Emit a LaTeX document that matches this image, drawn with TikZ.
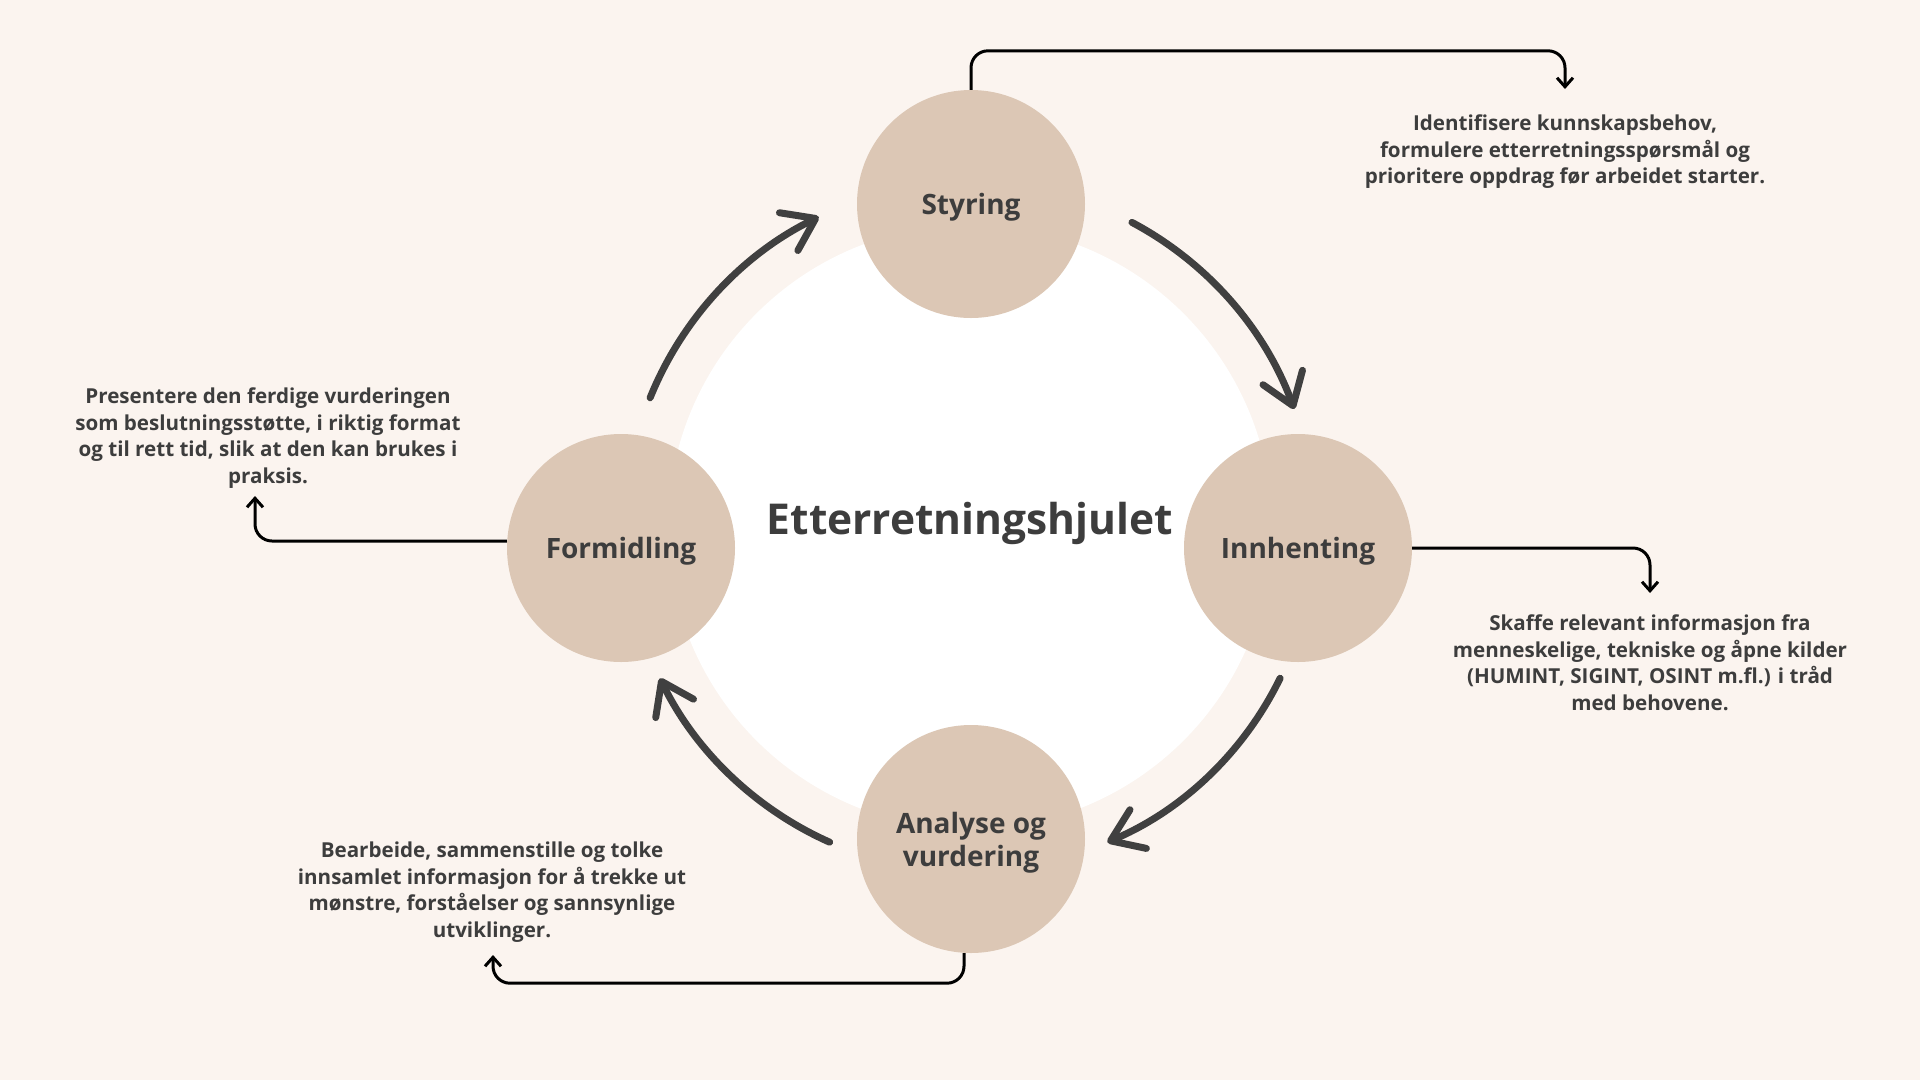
\documentclass[tikz,border=0pt]{standalone}
\usepackage{fontspec}
\setmainfont{Open Sans}
\usepackage{xcolor}
\usetikzlibrary{positioning,arrows.meta}

\definecolor{bgcream}{HTML}{FBF4EF}
\definecolor{phasefill}{HTML}{DCC7B5}
\definecolor{inkgray}{HTML}{3D3D3D}
\definecolor{arrowgray}{HTML}{404040}

\tikzset{
  phase/.style={circle, fill=phasefill, minimum size=228pt, inner sep=0pt, text depth=0pt,
    text=inkgray, align=center, font=\fontsize{28}{33}\selectfont\bfseries},
  desc/.style={text=inkgray, align=center, inner sep=0pt, font=\fontsize{20.6}{26.5}\selectfont\bfseries},
  hubtitle/.style={text=inkgray, inner sep=0pt, font=\fontsize{42.5}{50}\selectfont\bfseries},
  cycle/.style={draw=arrowgray, line width=7pt, line cap=round,
    -{Straight Barb[length=30pt,width=42pt,round]}},
  lead/.style={draw=black, line width=3pt, rounded corners=17pt,
    -{Straight Barb[length=9pt,width=16pt]}}
}

\begin{document}
\begin{tikzpicture}[x=1pt, y=-1pt]
  \fill[bgcream] (0,0) rectangle (1920,1080);
  \coordinate (hub) at (970,527);
  \fill[white] (hub) circle[radius=302];

  \node[phase]                  (styring)    at (971,204) {Styring};
  \node[phase]                  (innhenting) at (1298,548) {Innhenting};
  \node[phase]                  (analyse)    at (971,839) {Analyse og\\vurdering};
  \node[phase]                  (formidling) at (621,548) {Formidling};
  \node[hubtitle, anchor=base]  (hjul)       at (970,534) {Etterretningshjulet};

  \draw[cycle] ([shift={(-62:345)}]hub) arc[start angle=-62, end angle=-20, radius=345];
  \draw[cycle] ([shift={(26:345)}]hub)  arc[start angle=26, end angle=67, radius=340];
  \draw[cycle] ([shift={(114:345)}]hub) arc[start angle=114, end angle=154, radius=345];
  \draw[cycle] ([shift={(-158:345)}]hub) arc[start angle=-158, end angle=-116, radius=345];

  \node[desc, anchor=north] (styringtxt)    at (1565,115)
    {Identifisere kunnskapsbehov,\\formulere etterretningsspørsmål og\\prioritere oppdrag før arbeidet starter.};
  \node[desc, anchor=north] (innhentingtxt) at (1650,615)
    {Skaffe relevant informasjon fra\\menneskelige, tekniske og åpne kilder\\(HUMINT, SIGINT, OSINT m.fl.) i tråd\\med behovene.};
  \node[desc, anchor=north] (analysetxt)    at (492,842)
    {Bearbeide, sammenstille og tolke\\innsamlet informasjon for å trekke ut\\mønstre, forståelser og sannsynlige\\utviklinger.};
  \node[desc, anchor=north] (formidlingtxt) at (268,388)
    {Presentere den ferdige vurderingen\\som beslutningsstøtte, i riktig format\\og til rett tid, slik at den kan brukes i\\praksis.};

  \coordinate (analyseend)    at (493,955);
  \coordinate (formidlingend) at (255,496);

  \draw[lead] (styring.north) -- ++(0,-39) -| ([yshift=26pt]styringtxt.north);
  \draw[lead] (innhenting.east) -| ([yshift=22pt]innhentingtxt.north);
  \draw[lead] ([xshift=-7pt]analyse.south) -- ++(0,30) -| (analyseend);
  \draw[lead] ([yshift=7pt]formidling.west) -| (formidlingend);
\end{tikzpicture}
\end{document}
